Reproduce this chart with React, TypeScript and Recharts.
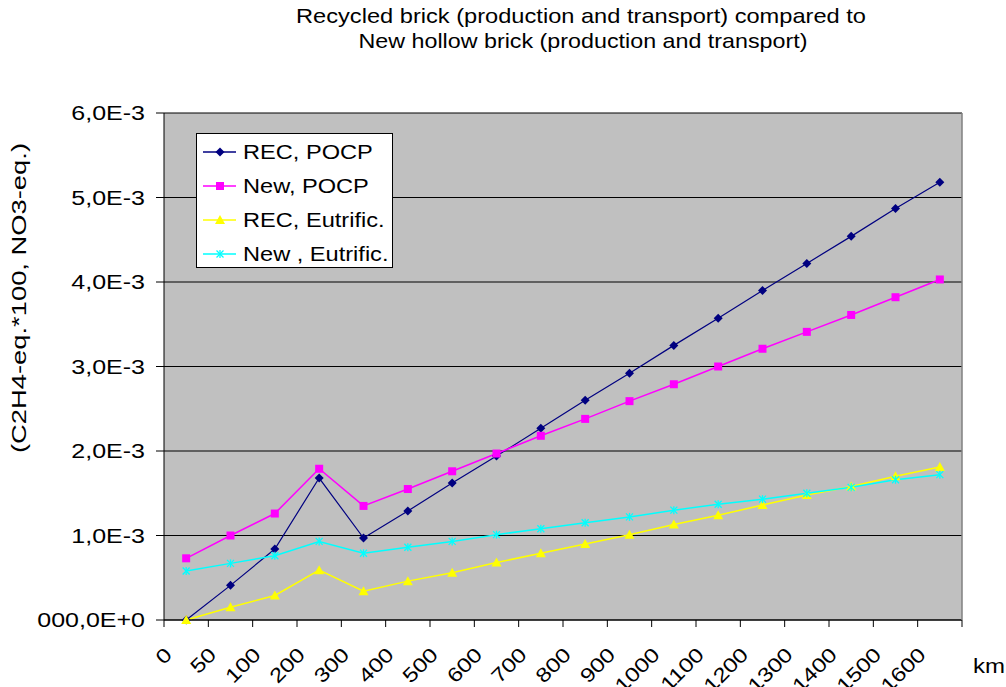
import React from 'react';
import { LineChart, Line, XAxis, YAxis, CartesianGrid, Legend } from 'recharts';

// distances (km), one category per point
const distances = ['0', '50', '100', '200', '300', '400', '500', '600', '700', '800', '900', '1000', '1100', '1200', '1300', '1400', '1500', '1600'];

// values in units of 1E-3 (C2H4-eq.*100 / NO3-eq.)
const recPocp = [0, 0.41, 0.84, 1.68, 0.97, 1.29, 1.62, 1.94, 2.27, 2.6, 2.92, 3.25, 3.57, 3.9, 4.22, 4.54, 4.87, 5.18];
const newPocp = [0.73, 1.0, 1.26, 1.79, 1.35, 1.55, 1.76, 1.97, 2.18, 2.38, 2.59, 2.79, 3.0, 3.21, 3.41, 3.61, 3.82, 4.03];
const recEutr = [0, 0.15, 0.29, 0.59, 0.34, 0.46, 0.56, 0.68, 0.79, 0.9, 1.01, 1.13, 1.24, 1.36, 1.48, 1.58, 1.7, 1.81];
const newEutr = [0.58, 0.67, 0.76, 0.93, 0.79, 0.86, 0.93, 1.01, 1.08, 1.15, 1.22, 1.3, 1.37, 1.43, 1.5, 1.57, 1.66, 1.72];

const yTicks = [0, 1, 2, 3, 4, 5, 6];
const xTicks = [0, 1, 2, 3, 4, 5, 6, 7, 8, 9, 10, 11, 12, 13, 14, 15, 16, 17, 18];

const data = distances.map((d, i) => ({
  pos: i + 0.5,
  km: d,
  recPocp: recPocp[i],
  newPocp: newPocp[i],
  recEutr: recEutr[i],
  newEutr: newEutr[i],
}));

const FONT = '"Liberation Sans", Arial, sans-serif';
// the original text is drawn a bit wider than Arial
const STRETCH = 1.2;

const series = [
  { key: 'recPocp', name: 'REC, POCP', color: '#000080', marker: 'diamond' },
  { key: 'newPocp', name: 'New, POCP', color: '#FF00FF', marker: 'square' },
  { key: 'recEutr', name: 'REC, Eutrific.', color: '#FFFF00', marker: 'triangle' },
  { key: 'newEutr', name: 'New , Eutrific.', color: '#00FFFF', marker: 'star' },
];

const Marker = ({ type, cx, cy, color }: { type: string; cx: number; cy: number; color: string }) => {
  if (type === 'diamond') {
    return <polygon points={`${cx},${cy - 4.5} ${cx + 4.5},${cy} ${cx},${cy + 4.5} ${cx - 4.5},${cy}`} fill={color} />;
  }
  if (type === 'square') {
    return <rect x={cx - 4} y={cy - 4} width={8} height={8} fill={color} />;
  }
  if (type === 'triangle') {
    return <polygon points={`${cx},${cy - 5} ${cx + 5},${cy + 4} ${cx - 5},${cy + 4}`} fill={color} />;
  }
  return (
    <g stroke={color} strokeWidth={1.3}>
      <line x1={cx - 3.5} y1={cy - 3.5} x2={cx + 3.5} y2={cy + 3.5} />
      <line x1={cx - 3.5} y1={cy + 3.5} x2={cx + 3.5} y2={cy - 3.5} />
      <line x1={cx} y1={cy - 4} x2={cx} y2={cy + 4} />
    </g>
  );
};

const makeDot = (type: string, color: string) => (props: any) => {
  const { cx, cy, index } = props;
  if (cx == null || cy == null) return <g key={index} />;
  return <Marker key={index} type={type} cx={cx} cy={cy} color={color} />;
};

const XTick = (props: any) => {
  const { x, y, payload } = props;
  const i = payload.value;
  if (i >= distances.length) return <g />;
  const ax = x + 44.3 / 2 - 13;
  const ay = y + 27;
  return (
    <text
      transform={`translate(${ax} ${ay}) rotate(-45) scale(${STRETCH} 1)`}
      textAnchor="end"
      fontFamily={FONT}
      fontSize={20}
      fill="#000"
    >
      {distances[i]}
    </text>
  );
};

const YTick = (props: any) => {
  const { x, y, payload } = props;
  const v = payload.value;
  const label = v === 0 ? '000,0E+0' : `${v},0E-3`;
  return (
    <text transform={`translate(${x} ${y + 7}) scale(1.25 1)`} textAnchor="end" fontFamily={FONT} fontSize={20} fill="#000">
      {label}
    </text>
  );
};

const LegendBox = () => (
  <svg width={197} height={135} style={{ display: 'block' }}>
    <rect x={0.5} y={0.5} width={196} height={134} fill="#fff" stroke="#000" />
    {series.map((s, i) => {
      const cy = 19 + i * 34;
      return (
        <g key={s.key}>
          <line x1={7} y1={cy} x2={40} y2={cy} stroke={s.color} strokeWidth={1.5} />
          <Marker type={s.marker} cx={24} cy={cy} color={s.color} />
          <text transform={`translate(47 ${cy + 7}) scale(1.18 1)`} fontFamily={FONT} fontSize={20} fill="#000">
            {s.name}
          </text>
        </g>
      );
    })}
  </svg>
);

export default function App() {
  return (
    <div style={{ position: 'absolute', left: 0, top: 0, width: 1006, height: 687, background: '#fff', overflow: 'hidden' }}>
      <LineChart width={1006} height={687} data={data} margin={{ top: 113, right: 44, left: 84, bottom: 7 }}>
        <CartesianGrid vertical={false} fill="#C0C0C0" stroke="#000" strokeOpacity={1} />
        <XAxis
          dataKey="pos"
          type="number"
          domain={[0, 18]}
          ticks={xTicks}
          interval={0}
          height={60}
          tickSize={7}
          tickMargin={2}
          stroke="#000"
          tick={<XTick />}
        />
        <YAxis
          domain={[0, 6]}
          ticks={yTicks}
          width={80}
          tickSize={8}
          tickMargin={11}
          stroke="#000"
          tick={<YTick />}
        />
        <Legend
          layout="horizontal"
          verticalAlign="middle"
          align="center"
          wrapperStyle={{ position: 'absolute', left: 196, top: 133, width: 197, height: 135 }}
          content={() => <LegendBox />}
        />
        {series.map((s) => (
          <Line
            key={s.key}
            type="linear"
            dataKey={s.key}
            name={s.name}
            stroke={s.color}
            strokeWidth={s.key === 'recPocp' ? 1.2 : 1.5}
            dot={makeDot(s.marker, s.color)}
            activeDot={false}
            isAnimationActive={false}
          />
        ))}
      </LineChart>
      <svg width={1006} height={687} style={{ position: 'absolute', left: 0, top: 0, pointerEvents: 'none' }}>
        <line x1={962} y1={113} x2={962} y2={620} stroke="#808080" strokeWidth={1.5} />
        <text x={581} y={23} textAnchor="middle" textLength={570} lengthAdjust="spacingAndGlyphs" fontFamily={FONT} fontSize={21} fill="#000">
          Recycled brick (production and transport) compared to
        </text>
        <text x={583} y={48} textAnchor="middle" textLength={449} lengthAdjust="spacingAndGlyphs" fontFamily={FONT} fontSize={21} fill="#000">
          New hollow brick (production and transport)
        </text>
        <text
          x={26}
          y={298}
          transform="rotate(-90 26 298)"
          textAnchor="middle"
          textLength={310}
          lengthAdjust="spacingAndGlyphs"
          fontFamily={FONT}
          fontSize={20}
          fill="#000"
        >
          (C2H4-eq.*100, NO3-eq.)
        </text>
        <text x={973} y={673} textLength={32} lengthAdjust="spacingAndGlyphs" fontFamily={FONT} fontSize={21} fill="#000">
          km
        </text>
      </svg>
    </div>
  );
}
